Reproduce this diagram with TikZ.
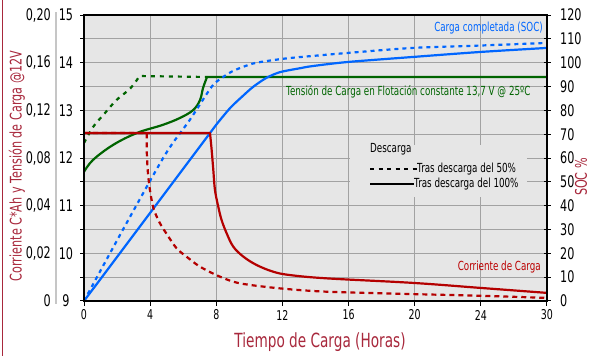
\documentclass[tikz,border=0pt]{standalone}
\usepackage{fontspec}
\setmainfont[FakeStretch=0.7]{DejaVu Sans}
\definecolor{plotbg}{RGB}{230,230,230}
\definecolor{gridgray}{RGB}{162,162,162}
\definecolor{socblue}{RGB}{0,102,255}
\definecolor{voltgreen}{RGB}{0,100,0}
\definecolor{ampred}{RGB}{180,0,0}
\definecolor{titlered}{RGB}{168,40,60}
\tikzset{
  gridline/.style={draw=gridgray, line width=1pt},
  axisline/.style={draw=black, line width=1.8pt},
  tickmark/.style={draw=black, line width=1pt},
  chartcurve/.style={line width=2.2pt, line join=round},
  halfsoc/.style={dash pattern=on 4pt off 4pt},
  halfvolt/.style={dash pattern=on 4pt off 5pt},
  halfamp/.style={dash pattern=on 5pt off 4pt},
  ticklabel/.style={inner sep=0pt, font=\fontsize{16}{18}\selectfont},
  xticklabel/.style={inner sep=0pt, font=\fontsize{13.5}{15}\selectfont},
  axistitle/.style={text=titlered, inner sep=0pt},
  chartlabel/.style={inner sep=0pt, font=\fontsize{12.5}{14}\selectfont},
}
\begin{document}
\begin{tikzpicture}[x=1pt,y=1pt]
\useasboundingbox (0,0) rectangle (590,356);
\draw[titlered, line width=1pt] (2,0) -- (2,356);
\draw[gray!45, line width=1.3pt] (56,52) -- (56,344);

\begin{scope}[shift={(84pt,55pt)}, x=66.14pt, y=23.83pt]
\fill[plotbg] (0,0) rectangle (7,12);
\foreach \k in {1,...,6} \draw[gridline] (\k,0) -- (\k,12);
\foreach \k in {1,...,11} \draw[gridline] (0,\k) -- (7,\k);
% legend area
\fill[plotbg] (4.02,4.36) rectangle (6.7,6.55);

% tension
\draw[chartcurve, voltgreen, halfvolt] plot[smooth, tension=0.6] coordinates {(0,6.63) (0.14,7.31) (0.29,7.8) (0.49,8.43) (0.7,8.92) (0.84,9.44)} -- (1.86,9.4);
\draw[chartcurve, voltgreen] plot[smooth, tension=0.6] coordinates {(0,5.42) (0.136,5.92) (0.44,6.55) (0.8,7.05) (1.19,7.39) (1.45,7.68) (1.65,8.01) (1.754,8.43) (1.8,8.94) (1.86,9.4)} -- (7,9.4);

% SOC
\draw[chartcurve, socblue, halfsoc] plot[smooth, tension=0.5] coordinates {(0,0) (0.6,3.05) (1.225,6.13) (1.6,7.6) (1.93,8.99) (2.08,9.35) (2.23,9.62) (2.41,9.83) (2.61,10.0) (3.06,10.18) (3.61,10.32) (3.99,10.41) (4.97,10.62) (5.99,10.72) (7,10.83)};
\draw[chartcurve, socblue] (0,0) -- plot[smooth, tension=0.5] coordinates {(2.0,7.4) (2.21,8.1) (2.4,8.6) (2.555,8.98) (2.75,9.35) (2.96,9.6) (3.27,9.77) (3.46,9.86) (3.99,10.03) (4.97,10.24) (5.99,10.45) (7,10.62)};

% corriente
\draw[chartcurve, ampred, halfamp] (0,7.05) -- (0.948,7.05) -- plot[smooth, tension=0.5] coordinates {(0.948,6.9) (0.95,6.2) (0.963,5.5) (0.983,4.94) (1.013,4.38) (1.058,3.82) (1.149,3.26) (1.26,2.77) (1.40,2.21) (1.55,1.86) (1.754,1.44) (2.056,1.02) (2.36,0.74) (2.96,0.53) (3.67,0.39) (4.97,0.29) (5.99,0.22) (7,0.13)};
\draw[chartcurve, ampred] (0,7.05) -- plot[smooth, tension=0.6] coordinates {(1.905,7.05) (1.93,6.34) (1.955,5.50) (1.98,4.66) (2.03,3.96) (2.08,3.40) (2.157,2.84) (2.257,2.28) (2.41,1.86) (2.61,1.51) (2.86,1.23) (3.11,1.09) (3.67,0.95) (4.97,0.76) (5.99,0.55) (7,0.34)};

\draw[axisline] (0,0) rectangle (7,12);
\foreach \k in {0,...,12} {
  \draw[tickmark] (0,\k) -- ++(-4pt,0);
  \draw[tickmark] (7,\k) ++(-3pt,0) -- ++(7pt,0);
}
\foreach \k in {0,...,7} \draw[tickmark] (\k,0) -- ++(0,-5pt);

\foreach \y/\t in {0/0, 2/{0,02}, 4/{0,04}, 6/{0,08}, 8/{0,12}, 10/{0,16}, 12/{0,20}}
  \node[ticklabel, anchor=east, xshift=-33pt] (ya\y) at (0,\y) {\t};
\foreach \v in {9,...,15}
  \node[ticklabel, xshift=-18pt] (yv\v) at (0,{2*(\v-9)}) {\v};
\foreach \p [count=\k from 0] in {0,10,...,120}
  \node[ticklabel, anchor=west, xshift=13pt] (soc\k) at (7,\k) {\p};
\foreach \h [count=\k from 0] in {0,4,8,12,16,20,24,30}
  \node[xticklabel, yshift=-14pt] (hx\k) at (\k,0) {\h};
\end{scope}

\node[axistitle, rotate=90, font=\fontsize{16}{18}\selectfont] (ytitle) at (17,190) {Corriente C*Ah y Tensión de Carga @12V};
\node[axistitle, font=\fontsize{19.5}{22}\selectfont] (xtitle) at (320,13.5) {Tiempo de Carga (Horas)};
\node[axistitle, rotate=90, font=\fontsize{16}{18}\selectfont] (soctitle) at (581,179) {SOC \%};

\node[chartlabel, text=socblue, anchor=east] (soclabel) at (543,328) {Carga completada (SOC)};
\node[chartlabel, text=voltgreen, anchor=west] (voltlabel) at (286,264) {Tensión de Carga en Flotación constante 13,7 V @ 25ºC};
\node[chartlabel, text=ampred!90!red, anchor=east] (amplabel) at (541,89) {Corriente de Carga};

\node[chartlabel, anchor=west] (legtitle) at (370,207) {Descarga};
\coordinate (leg50) at (370,187);
\node[chartlabel, anchor=west] (leg50text) at (417,187) {Tras descarga del 50\%};
\draw[line width=2pt, dash pattern=on 4pt off 4.5pt] (leg50) -- (leg50text.west);
\coordinate (leg100) at (370,172);
\node[chartlabel, anchor=west] (leg100text) at (414,172) {Tras descarga del 100\%};
\draw[line width=2pt] (leg100) -- (leg100text.west);
\end{tikzpicture}
\end{document}
